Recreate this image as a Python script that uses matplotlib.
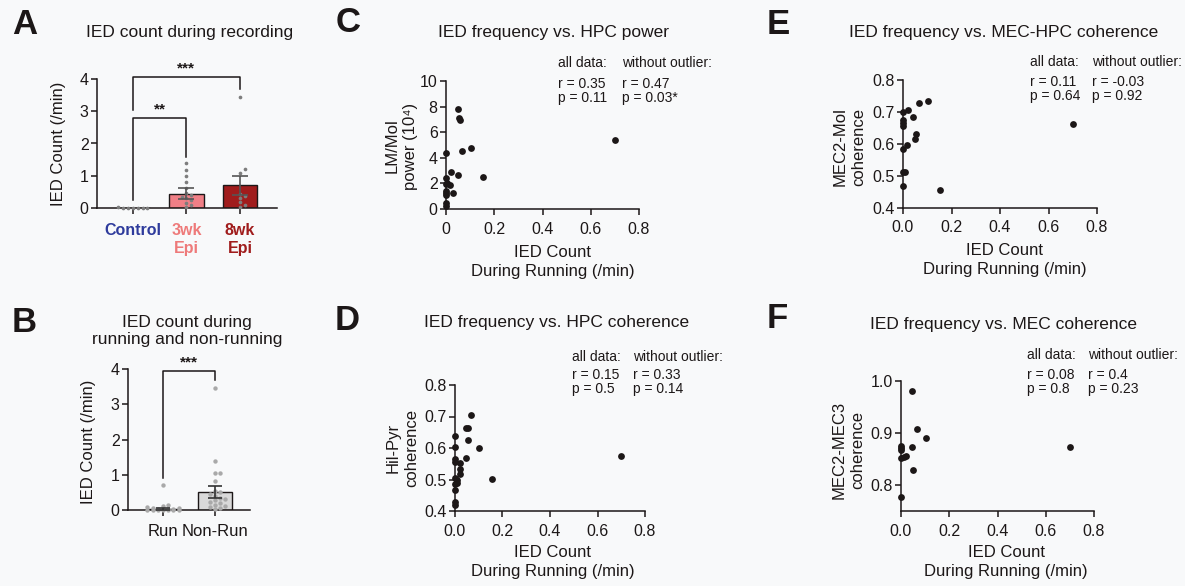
import numpy as np
import matplotlib
matplotlib.use("Agg")
import matplotlib.pyplot as plt

plt.rcParams['font.family'] = ['Liberation Sans', 'DejaVu Sans']

# ---- data ----
# panel A : IED count during recording
groupsA = ["Control", "3wk\nEpi", "8wk\nEpi"]
meanA = [0.01, 0.44, 0.70]
semA = [0.005, 0.17, 0.30]
ctrl_pts = [0.0, 0.01, 0.0, 0.02, 0.0, 0.01, 0.0]
wk3_pts = [1.38, 1.18, 1.0, 0.8, 0.62, 0.45, 0.4, 0.33, 0.3, 0.25, 0.14, 0.08, 0.02]
wk8_pts = [3.45, 1.2, 1.1, 0.42, 0.38, 0.3, 0.18, 0.1, 0.04]

# panel B : running vs non-running
groupsB = ["Run", "Non-Run"]
meanB = [0.04, 0.51]
semB = [0.03, 0.17]
run_pts = [0.7, 0.15, 0.1, 0.08, 0.06, 0.05, 0.04, 0.03, 0.02, 0.02, 0.01, 0.0, 0.0, 0.0, 0.0, 0.0, 0.0]
nonrun_pts = [3.45, 1.39, 1.06, 1.06, 0.83, 0.55, 0.5, 0.45, 0.4, 0.35, 0.3, 0.28,
              0.22, 0.2, 0.15, 0.12, 0.08, 0.05, 0.03]

# panel C : HPC power
xC = [0.0, 0.0, 0.0, 0.0, 0.0, 0.0, 0.0, 0.0, 0.005, 0.018, 0.022, 0.027,
      0.05, 0.05, 0.055, 0.057, 0.068, 0.105, 0.153, 0.7]
yC = [4.35, 2.4, 1.95, 1.4, 1.1, 1.25, 0.45, 0.25, 2.05, 1.9, 2.9, 1.25,
      7.8, 2.62, 7.1, 6.97, 4.55, 4.75, 2.5, 5.4]

# panel D : HPC coherence
xD = [0.0, 0.0, 0.0, 0.0, 0.0, 0.0, 0.0, 0.0, 0.0, 0.008, 0.01, 0.02, 0.02, 0.022,
      0.046, 0.048, 0.055, 0.056, 0.067, 0.102, 0.154, 0.7]
yD = [0.637, 0.602, 0.565, 0.557, 0.505, 0.485, 0.468, 0.428, 0.418, 0.50, 0.49,
      0.551, 0.533, 0.517, 0.569, 0.662, 0.665, 0.624, 0.704, 0.601, 0.503, 0.576]

# panel E : MEC-HPC coherence
xE = [0.0, 0.019, 0.043, 0.0, 0.0, 0.0, 0.055, 0.048, 0.018, 0.0, 0.0, 0.008,
      0.0, 0.151, 0.065, 0.103, 0.7]
yE = [0.700, 0.705, 0.683, 0.674, 0.664, 0.654, 0.630, 0.614, 0.595, 0.585, 0.513,
      0.513, 0.469, 0.455, 0.728, 0.732, 0.661]

# panel F : MEC coherence
xF = [0.045, 0.065, 0.102, 0.044, 0.0, 0.0, 0.0, 0.0, 0.013, 0.02, 0.051, 0.0, 0.7]
yF = [0.981, 0.908, 0.890, 0.872, 0.874, 0.870, 0.867, 0.851, 0.854, 0.855, 0.828,
      0.777, 0.872]

statsC = ["r = 0.35\np = 0.11", "r = 0.47\np = 0.03*"]
statsD = ["r = 0.15\np = 0.5", "r = 0.33\np = 0.14"]
statsE = ["r = 0.11\np = 0.64", "r = -0.03\np = 0.92"]
statsF = ["r = 0.08\np = 0.8", "r = 0.4\np = 0.23"]

# ---- figure ----
W, H = 1185, 586
fig = plt.figure(figsize=(W / 100, H / 100), dpi=100)
bg = '#f8f9fa'
fig.patch.set_facecolor(bg)
ink = '#1c1717'


def box(l, t, r, b):
    return [l / W, 1 - b / H, (r - l) / W, (b - t) / H]


def ftext(x, y, s, **kw):
    kw.setdefault('color', ink)
    return fig.text(x / W, 1 - y / H, s, **kw)


def style(ax):
    ax.set_facecolor('none')
    for s in ['top', 'right']:
        ax.spines[s].set_visible(False)
    for s in ['left', 'bottom']:
        ax.spines[s].set_linewidth(1.1)
        ax.spines[s].set_color(ink)
    ax.tick_params(direction='out', length=4, width=1.1, color=ink,
                   labelsize=11.5, labelcolor=ink, pad=2)
    ax.tick_params(axis='x', pad=5)


def swarm(vals, step, dy, nside):
    vals = np.asarray(vals, float)
    offs = np.zeros(len(vals))
    slots = [0.0]
    for k in range(1, nside + 1):
        slots += [k * step, -k * step]
    done = []
    for i in np.argsort(vals):
        used = [offs[j] for j in done if abs(vals[j] - vals[i]) < dy]
        free = [s for s in slots if all(abs(s - u) > 1e-9 for u in used)]
        offs[i] = free[0] if free else slots[len(used) % len(slots)]
        done.append(i)
    return offs


def bracket(ax, x0, x1, ytop, yl, yr, stars):
    ax.plot([x0, x0, x1, x1], [yl, ytop, ytop, yr], color=ink, lw=1.1,
            clip_on=False, zorder=5)
    ax.text((x0 + x1) / 2, ytop + 0.05, stars, ha='center', va='bottom',
            fontsize=11, fontweight='bold', color=ink)


# ---------------- panel A ----------------
axA = fig.add_axes(box(97, 79, 277, 208))
style(axA)
colA = ['#3a46a6', '#f07f86', '#a01c1c']
txtA = ['#2e3b9c', '#ee7a7a', '#a01c1c']
posA = np.arange(len(groupsA))
axA.bar(posA, meanA, width=0.64, color=colA, edgecolor=ink, linewidth=1, zorder=2)
for i, pts in enumerate([ctrl_pts, wk3_pts, wk8_pts]):
    off = swarm(pts, 0.09, 0.12, 3)
    axA.scatter(posA[i] + off, pts, s=7, color='#7d7d7d', zorder=3, clip_on=False,
                linewidths=0)
axA.errorbar(posA[1:], meanA[1:], yerr=semA[1:], fmt='none', ecolor='#555555',
             elinewidth=1.2, capsize=6, capthick=1.2, zorder=4)
axA.set_xlim(-0.67, 2.69)
axA.set_ylim(0, 4)
axA.set_yticks([0, 1, 2, 3, 4])
axA.set_xticks(posA)
axA.set_xticklabels(groupsA, fontweight='bold', fontsize=11.5, linespacing=1.25)
axA.tick_params(axis='x', pad=7)
for lab, c in zip(axA.get_xticklabels(), txtA):
    lab.set_color(c)
bracket(axA, 0, 2, 4.05, 3.03, 3.68, '***')
bracket(axA, 0, 1, 2.79, 0.25, 1.58, '**')

# ---------------- panel B ----------------
axB = fig.add_axes(box(128, 369, 250, 510))
style(axB)
posB = np.arange(len(groupsB))
axB.bar(posB, meanB, width=0.65, color='#d9d9d9', edgecolor=ink, linewidth=1, zorder=2)
for i, pts in enumerate([run_pts, nonrun_pts]):
    off = swarm(pts, 0.1, 0.12, 3)
    axB.scatter(posB[i] + off, pts, s=10, color='#a9a9a9', zorder=3, clip_on=False,
                linewidths=0)
axB.errorbar(posB, meanB, yerr=semB, fmt='none', ecolor='#333333',
             elinewidth=1.2, capsize=5, capthick=1.2, zorder=4)
axB.set_xlim(-0.67, 1.67)
axB.set_ylim(0, 4)
axB.set_yticks([0, 1, 2, 3, 4])
axB.set_xticks(posB)
axB.set_xticklabels(groupsB, fontsize=12)
axB.tick_params(axis='x', pad=6)
bracket(axB, 0, 1, 3.94, 0.9, 3.7, '***')


# ---------------- scatter panels ----------------
def scat(rect, x, y, ylim, yticks, yfmt):
    ax = fig.add_axes(rect)
    style(ax)
    ax.scatter(x, y, s=24, color=ink, zorder=5, clip_on=False, linewidths=0)
    ax.set_xlim(0, 0.8)
    ax.set_ylim(*ylim)
    ax.set_xticks([0, 0.2, 0.4, 0.6, 0.8])
    ax.set_yticks(yticks)
    ax.set_yticklabels([yfmt.format(v) for v in yticks])
    return ax


axC = scat(box(446, 81, 639, 209), xC, yC, (0, 10), [0, 2, 4, 6, 8, 10], "{:g}")
axC.set_xticklabels(["0", "0.2", "0.4", "0.6", "0.8"])
axD = scat(box(455, 385, 645, 511), xD, yD, (0.4, 0.8), [0.4, 0.5, 0.6, 0.7, 0.8], "{:.1f}")
axD.set_xticklabels(["0.0", "0.2", "0.4", "0.6", "0.8"])
axE = scat(box(903, 79.5, 1097, 208), xE, yE, (0.4, 0.8), [0.4, 0.5, 0.6, 0.7, 0.8], "{:.1f}")
axE.set_xticklabels(["0.0", "0.2", "0.4", "0.6", "0.8"])
axF = scat(box(901, 380.7, 1094, 511), xF, yF, (0.75, 1.0), [0.8, 0.9, 1.0], "{:.1f}")
axF.set_xticklabels(["0.0", "0.2", "0.4", "0.6", "0.8"])

# ---------------- texts ----------------
for s, x, y in [("A", 12, 25), ("B", 12, 323), ("C", 336, 22),
                ("D", 335, 321), ("E", 767, 24), ("F", 767, 319)]:
    ftext(x, y, s, fontsize=25, fontweight='bold', ha='left', va='center')

tkw = dict(fontsize=12.5, ha='center', va='center')
ftext(190, 33, "IED count during recording", **tkw)
ftext(187, 331, "IED count during\nrunning and non-running", linespacing=1.15, **tkw)
ftext(553, 33, "IED frequency vs. HPC power", **tkw)
ftext(557, 323, "IED frequency vs. HPC coherence", **tkw)
ftext(1004, 33, "IED frequency vs. MEC-HPC coherence", **tkw)
ftext(1003, 324, "IED frequency vs. MEC coherence", **tkw)

lkw = dict(fontsize=12, ha='center', va='center', rotation=90, linespacing=1.3)
ftext(58, 144, "IED Count (/min)", **lkw)
ftext(88, 442, "IED Count (/min)", **lkw)
ftext(401, 146, "LM/Mol\npower (10⁴)", **lkw)
ftext(402, 448, "Hil-Pyr\ncoherence", **lkw)
ftext(849, 147, "MEC2-Mol\ncoherence", **lkw)
ftext(848, 450, "MEC2-MEC3\ncoherence", **lkw)

xkw = dict(fontsize=12, ha='center', va='center', linespacing=1.3)
for x, y in [(553, 262), (553, 562), (1005, 260), (1006, 562)]:
    ftext(x, y, "IED Count\nDuring Running (/min)", **xkw)

skw = dict(fontsize=10, ha='left', va='center', linespacing=1.0)
for (x1, x2, yh, yr), st in [((558, 622, 63, 91), statsC), ((572, 633, 357, 382), statsD),
                             ((1030, 1092, 62, 89), statsE), ((1027, 1088, 355, 382), statsF)]:
    ftext(x1, yh, "all data:", **skw)
    ftext(x2, yh, "without outlier:", **skw)
    ftext(x1, yr, st[0], **skw)
    ftext(x2, yr, st[1], **skw)

fig.savefig("out.png", dpi=100, facecolor=bg)
